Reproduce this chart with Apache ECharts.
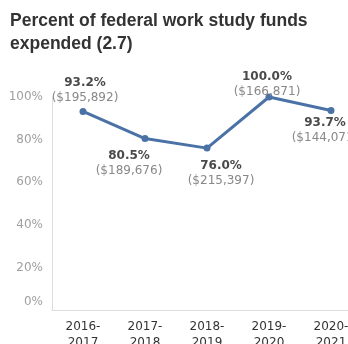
<!DOCTYPE html>
<html>
<head>
<meta charset="utf-8">
<script src="https://cdn.jsdelivr.net/npm/echarts@6/dist/echarts.min.js"></script>
<style>
  html, body { margin: 0; padding: 0; background: #fff; }
  #chart { width: 348px; height: 344px; }
</style>
</head>
<body>
<div id="chart"></div>
<script>
// Federal work study funds expended, by award year
const years = ['2016-\n2017', '2017-\n2018', '2018-\n2019', '2019-\n2020', '2020-\n2021'];
const pctExpended = [93.2, 80.5, 76.0, 100.0, 93.7];
const dollarsExpended = ['$195,892', '$189,676', '$215,397', '$166,871', '$144,071'];
const yTicks = [0, 20, 40, 60, 80, 100];

// Where each point's label sits relative to the point
const labelPlacement = [
  { position: 'top', distance: 3, offset: [2, 0] },
  { position: 'bottom', distance: 6, offset: [-16, 0] },
  { position: 'bottom', distance: 7, offset: [14, 0] },
  { position: 'top', distance: -6, offset: [-2, 0] },
  { position: 'bottom', distance: 1, offset: [-6, 0] }
];

const FONT = 'DejaVu Sans, Verdana, sans-serif';

const chart = echarts.init(document.getElementById('chart'), null, { renderer: 'canvas' });

const seriesData = pctExpended.map((v, i) => ({
  value: v,
  label: {
    position: labelPlacement[i].position,
    distance: labelPlacement[i].distance,
    offset: labelPlacement[i].offset,
    formatter: '{p|' + v.toFixed(1) + '%}\n{d|(' + dollarsExpended[i] + ')}'
  }
}));

chart.setOption({
  animation: false,
  title: {
    text: 'Percent of federal work study funds\nexpended (2.7)',
    left: 10,
    top: 10,
    padding: 0,
    textStyle: {
      fontFamily: 'Liberation Sans, Arial, sans-serif',
      fontSize: 17.5,
      fontWeight: 'bold',
      color: '#333',
      lineHeight: 23
    }
  },
  grid: { left: 52, width: 310, top: 97, bottom: 34, containLabel: false, outerBoundsMode: 'none' },
  xAxis: {
    type: 'category',
    data: years,
    boundaryGap: true,
    axisLine: { show: true, lineStyle: { color: '#ddd', width: 1 } },
    axisTick: { show: false },
    axisLabel: {
      color: '#333',
      fontFamily: FONT,
      fontSize: 12,
      lineHeight: 16,
      margin: 9,
      interval: 0
    },
    splitLine: { show: false }
  },
  yAxis: {
    type: 'value',
    min: 0,
    max: 100,
    interval: 20,
    axisLine: { show: true, lineStyle: { color: '#ddd', width: 1 } },
    axisTick: { show: false },
    splitLine: { show: false },
    axisLabel: {
      margin: 9,
      color: '#a0a0a0',
      fontFamily: FONT,
      fontSize: 12,
      formatter: function (v) {
        return v === yTicks[0] ? '{z|' + v + '%}' : v + '%';
      },
      rich: {
        z: {
          color: '#a0a0a0',
          fontFamily: FONT,
          fontSize: 12,
          padding: [0, 0, 16, 0]
        }
      }
    }
  },
  series: [{
    type: 'line',
    data: seriesData,
    symbol: 'circle',
    symbolSize: 7,
    lineStyle: { color: '#4a72a6', width: 3 },
    itemStyle: { color: '#4a72a6' },
    label: {
      show: true,
      align: 'center',
      rich: {
        p: {
          fontFamily: FONT,
          fontSize: 12,
          fontWeight: 'bold',
          color: '#4a4a4a',
          lineHeight: 15,
          align: 'center'
        },
        d: {
          fontFamily: FONT,
          fontSize: 12,
          color: '#888',
          lineHeight: 15,
          align: 'center'
        }
      }
    }
  }]
});
</script>
</body>
</html>
